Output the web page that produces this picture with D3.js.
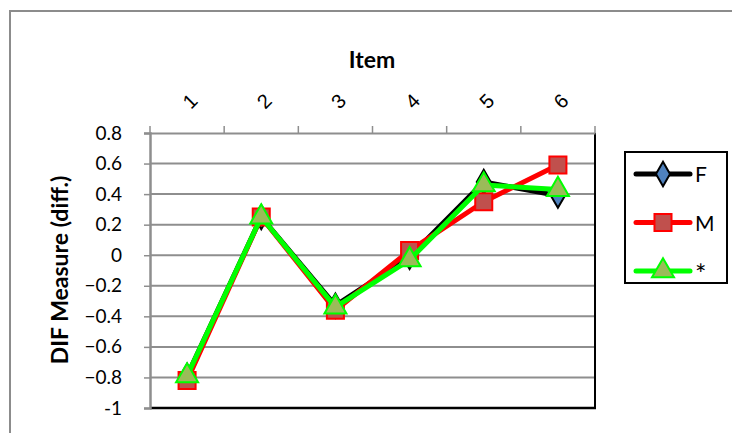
<!DOCTYPE html>
<html><head><meta charset="utf-8">
<script src="https://cdn.jsdelivr.net/npm/d3@7"></script>
<style>body{margin:0;background:#fff}svg{display:block;font-family:Lato,"Open Sans",sans-serif}</style>
</head><body><svg id="c" width="732" height="433"></svg>
<script>
const categories = ["1","2","3","4","5","6"];
const seriesNames = ["F","M","*"];
const valuesF = [-0.79, 0.25, -0.33, -0.01, 0.48, 0.39];
const valuesM = [-0.82, 0.25, -0.36, 0.03, 0.35, 0.59];
const valuesStar = [-0.79, 0.25, -0.34, -0.03, 0.46, 0.43];
const yTicks = [0.8, 0.6, 0.4, 0.2, 0, -0.2, -0.4, -0.6, -0.8, -1];

const svg = d3.select("#c");
const L = 150, R = 595, T = 133, B = 408;
const x = d3.scaleBand().domain(categories).range([L, R]);
const y = d3.scaleLinear().domain([-1, 0.8]).range([B, T]);

// outer frame
svg.append("rect").attr("x", 10).attr("y", 11).attr("width", 800).attr("height", 500)
  .attr("fill", "none").attr("stroke", "#8c8c8c").attr("stroke-width", 2);

// gridlines
svg.append("g").selectAll("line").data(yTicks.filter(d => d > -1 && d < 0.8)).join("line")
  .attr("x1", L).attr("x2", R).attr("y1", d => y(d)).attr("y2", d => y(d))
  .attr("stroke", "#8e8e8e").attr("stroke-width", 2);

// plot border right & bottom
svg.append("line").attr("x1", R).attr("x2", R).attr("y1", T).attr("y2", B).attr("stroke", "#000").attr("stroke-width", 2);
svg.append("line").attr("x1", L).attr("x2", R + 1).attr("y1", B).attr("y2", B).attr("stroke", "#000").attr("stroke-width", 2.5);

// y axis
const yAxis = d3.axisLeft(y).tickValues(yTicks).tickSize(6).tickPadding(22)
  .tickFormat(d => d === 0 ? "0" : (d === -1 ? "-1" : d3.format(".1f")(d)));
const gy = svg.append("g").attr("transform", `translate(${L},0)`).call(yAxis);
gy.select(".domain").attr("stroke", "#8e8e8e").attr("stroke-width", 2.5);
gy.selectAll(".tick line").attr("stroke", "#8e8e8e").attr("stroke-width", 1.5);
gy.selectAll(".tick text").attr("font-size", 19).attr("fill", "#000").attr("font-family", "Lato, sans-serif");

// x axis (top)
const xAxis = d3.axisTop(x).tickSize(0).tickPadding(0);
const gx = svg.append("g").attr("transform", `translate(0,${T})`).call(xAxis);
gx.select(".domain").attr("stroke", "#8e8e8e").attr("stroke-width", 2);
gx.selectAll(".tick text").attr("font-size", 20).attr("fill", "#000")
  .attr("text-anchor", "middle")
  .attr("transform", "translate(3,-32) rotate(-45)")
  .attr("dy", "0.35em");
// category boundary ticks
const bounds = categories.map(c => x(c)).concat([R]);
svg.append("g").selectAll("line").data(bounds).join("line")
  .attr("x1", d => d).attr("x2", d => d).attr("y1", T - 7).attr("y2", T)
  .attr("stroke", "#8e8e8e").attr("stroke-width", 1.5);

// titles
svg.append("text").attr("x", 372).attr("y", 68).attr("text-anchor", "middle")
  .attr("font-size", 23).attr("font-weight", "bold").text("Item");
svg.append("text").attr("transform", "translate(68,270) rotate(-90)").attr("text-anchor", "middle")
  .attr("font-size", 23).attr("font-weight", "bold").text("DIF Measure (diff.)");

// series
const series = [
  {name: seriesNames[0], values: valuesF, line: "#000", fill: "#4f81bd", stroke: "#000", shape: d3.symbolDiamond, size: 170},
  {name: seriesNames[1], values: valuesM, line: "#ff0000", fill: "#c0504d", stroke: "#ff0000", shape: d3.symbolSquare, size: 290},
  {name: seriesNames[2], values: valuesStar, line: "#00ff00", fill: "#9bbb59", stroke: "#00ff00", shape: d3.symbolTriangle, size: 210}
];
const cx = c => x(c) + x.bandwidth() / 2;
const lineGen = d3.line().x((d, i) => cx(categories[i])).y(d => y(d));
series.forEach(s => {
  const g = svg.append("g");
  g.append("path").datum(s.values).attr("d", lineGen).attr("fill", "none")
    .attr("stroke", s.line).attr("stroke-width", 5).attr("stroke-linejoin", "round");
  g.selectAll("path.m").data(s.values).join("path").attr("class", "m")
    .attr("d", d3.symbol().type(s.shape).size(s.size))
    .attr("transform", (d, i) => `translate(${cx(categories[i])},${y(d)})`)
    .attr("fill", s.fill).attr("stroke", s.stroke).attr("stroke-width", 2);
});

// legend
const lg = svg.append("g");
lg.append("rect").attr("x", 625).attr("y", 152).attr("width", 102).attr("height", 131)
  .attr("fill", "#fff").attr("stroke", "#000").attr("stroke-width", 2);
series.forEach((s, i) => {
  const ly = 174 + i * 48.5;
  lg.append("line").attr("x1", 636).attr("x2", 690).attr("y1", ly).attr("y2", ly)
    .attr("stroke", s.line).attr("stroke-width", 5).attr("stroke-linecap", "round");
  lg.append("path").attr("d", d3.symbol().type(s.shape).size(s.size))
    .attr("transform", `translate(663,${ly})`)
    .attr("fill", s.fill).attr("stroke", s.stroke).attr("stroke-width", 2);
  const star = s.name === "*";
  lg.append("text").attr("x", 695).attr("y", ly + (star ? 13 : 8)).attr("font-size", star ? 27 : 21)
    .text(s.name);
});
</script></body></html>
